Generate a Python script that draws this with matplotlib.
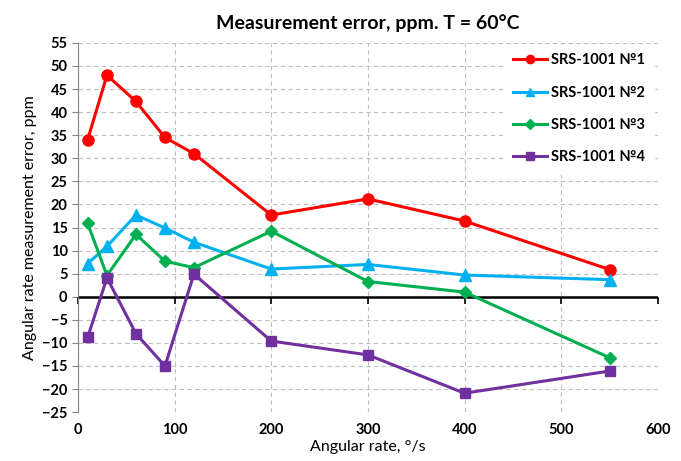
import numpy as np
import matplotlib
matplotlib.use("Agg")
import matplotlib.pyplot as plt

rate = [10, 30, 60, 90, 120, 200, 300, 400, 550]
srs1 = [34.0, 48.0, 42.3, 34.5, 31.0, 17.7, 21.2, 16.4, 5.9]
srs2 = [7.2, 10.9, 17.7, 14.9, 11.8, 6.0, 7.0, 4.7, 3.7]
srs3 = [15.9, 4.6, 13.5, 7.7, 6.3, 14.2, 3.3, 1.0, -13.2]
srs4 = [-8.8, 4.1, -8.0, -15.0, 4.9, -9.6, -12.6, -20.9, -16.1]
names = ["SRS-1001 №1", "SRS-1001 №2", "SRS-1001 №3", "SRS-1001 №4"]

plt.rcParams['font.family'] = ['Lato', 'DejaVu Sans']

fig = plt.figure(figsize=(6.81, 4.61), dpi=100)
ax = fig.add_axes([0.1145, 0.106, 0.8515, 0.801])

styles = [("#FF0000", "o", 8), ("#00B0F0", "^", 8), ("#00B050", "D", 6.5), ("#7030A0", "s", 7.5)]
for ys, name, (c, m, ms) in zip([srs1, srs2, srs3, srs4], names, styles):
    ax.plot(rate, ys, color=c, marker=m, markersize=ms, linewidth=2.2, label=name, zorder=3)

ax.set_xlim(0, 600)
ax.set_ylim(-25, 55)
ax.set_xticks(np.arange(0, 601, 100))
ax.set_yticks(np.arange(-25, 56, 5))
ax.grid(True, color="#BFBFBF", linestyle=(0, (4, 3)), linewidth=0.8)

for s in ["top", "right", "bottom"]:
    ax.spines[s].set_visible(False)
ax.spines["left"].set_color("#868686")
ax.tick_params(axis="y", color="#868686", length=4, labelsize=10.5)
ax.tick_params(axis="x", length=0, labelsize=10.5, pad=8)
for lab in ax.get_xticklabels() + ax.get_yticklabels():
    lab.set_fontweight("bold")

# horizontal axis crossing at zero
ax.axhline(0, color="black", linewidth=1.8, zorder=2)
xt = ax.get_xticks()
ax.plot(xt, np.zeros_like(xt), linestyle="none", marker=3, markersize=5,
        color="black", markeredgewidth=1.2, zorder=2, clip_on=False)

ax.set_xlabel("Angular rate, °/s", fontsize=11.5, labelpad=2)
ax.set_ylabel("Angular rate measurement error, ppm", fontsize=11.5)
ax.set_title("Measurement error, ppm. T = 60°C", fontsize=14, fontweight="bold", pad=10)

leg = ax.legend(loc="upper right", fontsize=10.5, frameon=True, fancybox=False,
                facecolor="white", edgecolor="white", framealpha=1,
                borderpad=0.6, labelspacing=1.25, handlelength=2.3,
                handletextpad=0.3, markerscale=0.75,
                bbox_to_anchor=(0.993, 0.995), borderaxespad=0)
for t in leg.get_texts():
    t.set_fontweight("bold")

fig.savefig("out.png", dpi=100)
